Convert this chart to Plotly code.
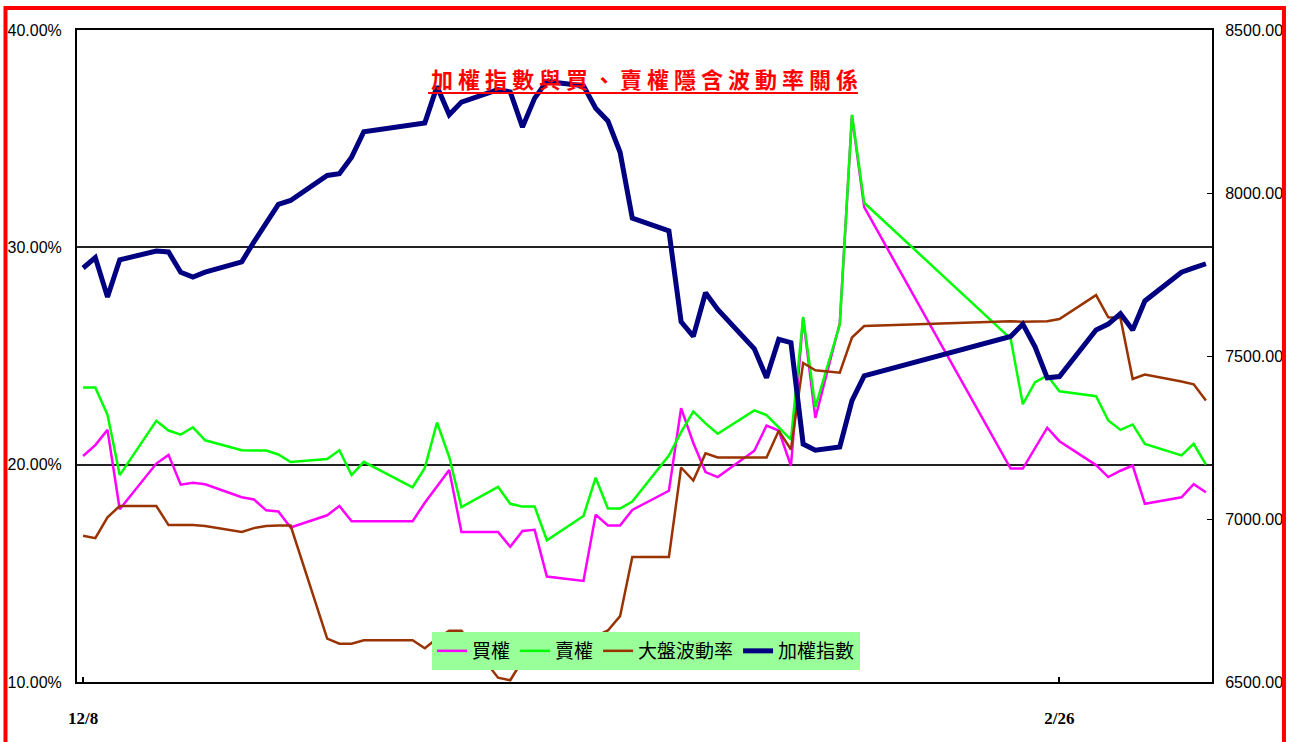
import plotly.graph_objects as go

# trading days shown on the chart
dates = [
    '2009-12-08', '2009-12-09', '2009-12-10', '2009-12-11', '2009-12-14', '2009-12-15',
    '2009-12-16', '2009-12-17', '2009-12-18', '2009-12-21', '2009-12-22', '2009-12-23',
    '2009-12-24', '2009-12-25', '2009-12-28', '2009-12-29', '2009-12-30', '2009-12-31',
    '2010-01-04', '2010-01-05', '2010-01-06', '2010-01-07', '2010-01-08', '2010-01-11',
    '2010-01-12', '2010-01-13', '2010-01-14', '2010-01-15', '2010-01-18', '2010-01-19',
    '2010-01-20', '2010-01-21', '2010-01-22', '2010-01-25', '2010-01-26', '2010-01-27',
    '2010-01-28', '2010-01-29', '2010-02-01', '2010-02-02', '2010-02-03', '2010-02-04',
    '2010-02-05', '2010-02-06', '2010-02-08', '2010-02-09', '2010-02-10', '2010-02-22',
    '2010-02-23', '2010-02-24', '2010-02-25', '2010-02-26', '2010-03-01', '2010-03-02',
    '2010-03-03', '2010-03-04', '2010-03-05', '2010-03-08', '2010-03-09', '2010-03-10',
]

# 買權 implied vol (%)
call_iv = [
    20.4, 20.9, 21.6, 17.95, 20.05, 20.45, 19.08, 19.17, 19.1, 18.5, 18.4, 17.9,
    17.85, 17.11, 17.67, 18.1, 17.4, 17.4,
    17.4, 18.25, 19.0, 19.75, 16.9, 16.9, 16.22, 16.95, 17.0, 14.85, 14.65, 17.7,
    17.2, 17.2, 17.92, 18.8, 22.6, 21.0, 19.66, 19.43,
    20.64, 21.8, 21.57, 19.95, 26.75, 22.15, 26.5, 36.05, 31.85, 19.82,
    19.82, 20.75, 21.7, 21.08,
    19.98, 19.43, 19.72, 19.96, 18.2, 18.5, 19.1, 18.73,
]

# 賣權 implied vol (%)
put_iv = [
    23.55, 23.55, 22.3, 19.52, 22.02, 21.57, 21.38, 21.72, 21.12, 20.66, 20.65, 20.65,
    20.47, 20.12, 20.26, 20.66, 19.52, 20.13,
    18.96, 19.85, 21.94, 20.35, 18.05, 18.98, 18.2, 18.07, 18.07, 16.52, 17.64, 19.4,
    17.98, 17.98, 18.3, 20.42, 21.5, 22.45, 21.9, 21.42,
    22.5, 22.28, 21.72, 21.15, 26.8, 22.65, 26.45, 36.1, 32.05, 25.8,
    22.78, 23.8, 24.1, 23.38,
    23.15, 22.03, 21.6, 21.85, 20.95, 20.43, 20.96, 20.0,
]

# 大盤波動率 (%)
market_vol = [
    16.73, 16.62, 17.58, 18.1, 18.1, 17.22, 17.22, 17.22, 17.18, 16.9, 17.08, 17.18,
    17.2, 17.2, 12.0, 11.76, 11.76, 11.92,
    11.92, 11.55, 12.0, 12.36, 12.36, 10.2, 10.08, 11.0, 11.3, 11.6, 11.9, 12.1,
    12.37, 13.03, 15.75, 15.75, 19.87, 19.27, 20.52, 20.33,
    20.33, 20.33, 21.56, 20.7, 24.68, 24.34, 24.23, 25.85, 26.38, 26.6,
    26.58, 26.58, 26.6, 26.7,
    27.8, 26.78, 26.75, 23.94, 24.15, 23.83, 23.7, 22.95,
]

# 加權指數 close
taiex = [
    7770, 7802, 7681, 7795, 7822, 7819, 7757, 7742, 7757, 7789, 7850, 7905,
    7965, 7977, 8054, 8059, 8110, 8188,
    8207, 8215, 8327, 8240, 8279, 8317, 8310, 8202, 8291, 8342, 8329, 8260,
    8221, 8125, 7923, 7884, 7605, 7560, 7694, 7643,
    7522, 7433, 7551, 7541, 7230, 7211, 7221, 7363, 7439, 7560,
    7598, 7528, 7433, 7437,
    7580, 7598, 7630, 7580, 7669, 7757, 7770, 7783,
]

x_ticks = ['2009-12-08', '2010-02-26']
x_labels = ['12/8', '2/26']
pct_ticks = [10, 20, 30, 40]
pct_labels = ['10.00%', '20.00%', '30.00%', '40.00%']

title_text = '加 權 指 數 與 買 、 賣 權 隱 含 波 動 率 關 係'

num_font = 'Liberation Sans, Arial, sans-serif'
cjk_font = 'Noto Sans CJK TC, Noto Sans CJK SC, sans-serif'

fig = go.Figure()
fig.add_trace(go.Scatter(x=dates, y=call_iv, name='買權', mode='lines',
                         line=dict(color='#FF00FF', width=2.5)))
fig.add_trace(go.Scatter(x=dates, y=put_iv, name='賣權', mode='lines',
                         line=dict(color='#00FF00', width=2.5)))
fig.add_trace(go.Scatter(x=dates, y=market_vol, name='大盤波動率', mode='lines',
                         line=dict(color='#993300', width=2.5)))
fig.add_trace(go.Scatter(x=dates, y=taiex, name='加權指數', mode='lines', yaxis='y2',
                         line=dict(color='#000080', width=5)))

fig.update_layout(
    width=1289, height=742,
    margin=dict(l=77, r=77, t=30, b=60),
    paper_bgcolor='white', plot_bgcolor='white',
    showlegend=True,
    legend=dict(orientation='h', x=0.3128, y=0.0767, xanchor='left', yanchor='top',
                bgcolor='#99FF99', font=dict(family=cjk_font, size=19, color='black'),
                itemwidth=30),
    xaxis=dict(type='date', range=['2009-12-07 12:00', '2010-03-10 12:00'],
               tickmode='array', tickvals=x_ticks, ticktext=x_labels,
               ticks='inside', ticklen=5, tickcolor='black', tickwidth=1.5,
               showgrid=False, showline=True, linecolor='black', linewidth=2, mirror=True,
               tickfont=dict(family='Liberation Serif, serif', size=17, color='black', weight='bold'),
               ticklabelstandoff=20, automargin=False),
    yaxis=dict(range=[10, 40], tickmode='array', tickvals=pct_ticks, ticktext=pct_labels,
               showgrid=True, gridcolor='#222', gridwidth=1.5,
               showline=True, linecolor='black', linewidth=2, mirror=True, zeroline=False,
               ticks='', ticklabelstandoff=10, automargin=False,
               tickfont=dict(family=num_font, size=16, color='black')),
    yaxis2=dict(overlaying='y', side='right', range=[6500, 8500], dtick=500,
                tickformat='.2f', ticks='inside', ticklen=5, tickcolor='black',
                showgrid=False, showline=True, linecolor='black', linewidth=2, zeroline=False,
                ticklabelstandoff=8, automargin=False,
                tickfont=dict(family=num_font, size=16, color='black')),
    annotations=[dict(text='<b>' + title_text + '</b>', xref='paper', yref='paper',
                      x=0.5, y=0.926, xanchor='center', yanchor='middle', showarrow=False,
                      font=dict(family=cjk_font, size=22, color='#FF0000'))],
    shapes=[
        dict(type='line', xref='paper', yref='paper', x0=0.3093, x1=0.6881,
             y0=0.9034, y1=0.9034, line=dict(color='#FF0000', width=2)),
        dict(type='rect', xref='paper', yref='paper', x0=-0.063, x1=1.0634,
             y0=-0.13, y1=1.0337, line=dict(color='#FF0000', width=4)),
    ],
)

# drop the page's default body margin so the figure sits at the window origin
fig.write_html('out.html', config={'displayModeBar': False},
               post_script="document.body.style.margin='0';")
